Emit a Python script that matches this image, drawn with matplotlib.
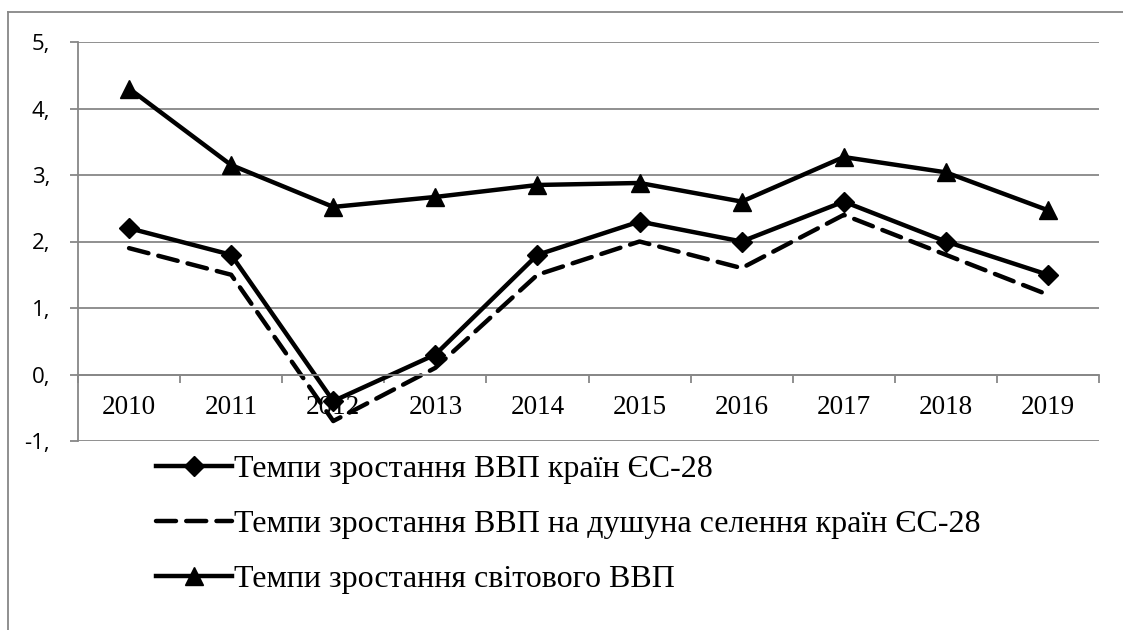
import matplotlib.pyplot as plt
from matplotlib.lines import Line2D

# Дані
years = ['2010', '2011', '2012', '2013', '2014', '2015', '2016', '2017', '2018', '2019']
eu_gdp = [2.2, 1.8, -0.4, 0.3, 1.8, 2.3, 2.0, 2.6, 2.0, 1.5]
eu_gdp_pc = [1.9, 1.5, -0.7, 0.1, 1.5, 2.0, 1.6, 2.4, 1.8, 1.2]
world_gdp = [4.3, 3.15, 2.52, 2.67, 2.85, 2.88, 2.6, 3.27, 3.04, 2.47]
y_ticks = [-1, 0, 1, 2, 3, 4, 5]
y_labels = ['-1,', '0,', '1,', '2,', '3,', '4,', '5,']

labels = ['Темпи зростання ВВП країн ЄС-28',
          'Темпи зростання ВВП на душуна селення країн ЄС-28',
          'Темпи зростання світового ВВП']

gray = '#878787'

fig = plt.figure(figsize=(11.23, 6.3), dpi=100)
ax = fig.add_axes([78 / 1123, 1 - 441 / 630, (1099 - 78) / 1123, (441 - 42) / 630])

x = list(range(len(years)))
ax.plot(x, eu_gdp, color='black', lw=3.2, marker='D', ms=10.5, label=labels[0])
ax.plot(x, eu_gdp_pc, color='black', lw=3.2, ls=(0, (4.5, 2.3)),
        dash_capstyle='round', label=labels[1])
ax.plot(x, world_gdp, color='black', lw=3.2, marker='^', ms=13.5, label=labels[2])

ax.set_xlim(-0.5, 9.5)
ax.set_ylim(-1, 5)

# Осі
ax.spines['top'].set_visible(False)
ax.spines['right'].set_visible(False)
ax.spines['bottom'].set_position(('data', 0))
for s in ['left', 'bottom']:
    ax.spines[s].set_color(gray)
    ax.spines[s].set_linewidth(1.3)

ax.set_yticks(y_ticks)
ax.set_yticklabels(y_labels, fontfamily='Open Sans', fontsize=16)
ax.tick_params(axis='y', length=6, width=1.3, color=gray, pad=14)
ax.yaxis.grid(True, color=gray, lw=1.3)
ax.set_axisbelow(True)

ax.set_xticks(x)
ax.set_xticklabels(years, fontfamily='Liberation Serif', fontsize=19.5)
ax.set_xticks([i - 0.5 for i in range(len(years) + 1)], minor=True)
ax.tick_params(axis='x', which='major', length=0, pad=15)
ax.tick_params(axis='x', which='minor', length=6, width=1.3, color=gray, direction='out')

# Легенда
ax.legend(loc='upper left', bbox_to_anchor=(127 / 1123, 1 - 426 / 630),
          bbox_transform=fig.transFigure, frameon=False,
          prop={'family': 'Liberation Serif', 'size': 23},
          handlelength=2.4, handletextpad=0.05, labelspacing=0.8)

# Рамка
fig.add_artist(Line2D([7.5 / 1123, 1], [1 - 11.5 / 630] * 2, color=gray, lw=1.3))
fig.add_artist(Line2D([7.5 / 1123] * 2, [0, 1 - 11.5 / 630], color=gray, lw=1.3))

fig.savefig('out.png', dpi=100)
